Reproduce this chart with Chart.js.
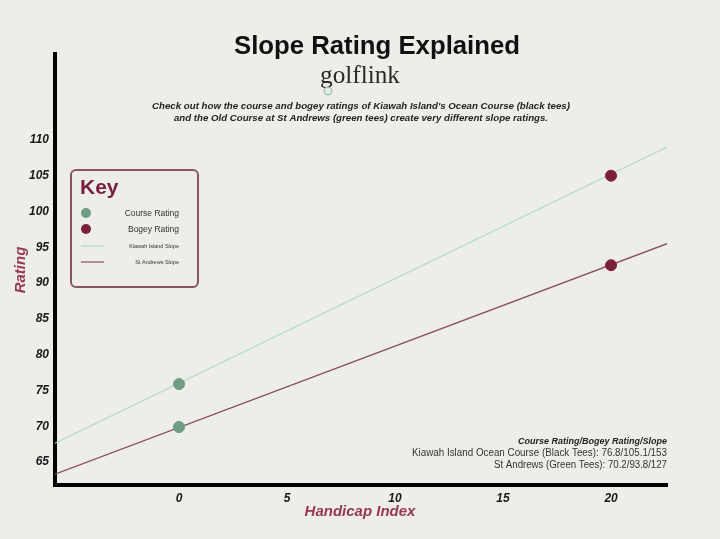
<!DOCTYPE html>
<html>
<head>
<meta charset="utf-8">
<script src="https://cdn.jsdelivr.net/npm/chart.js@4.4.0/dist/chart.umd.min.js"></script>
<style>
  html, body { margin: 0; padding: 0; background: #edede9; }
  #wrap { width: 720px; height: 539px; }
</style>
</head>
<body>
<div id="wrap"><canvas id="slopeChart" width="720" height="539"></canvas></div>
<script>
// data
const xTicks = [0, 5, 10, 15, 20];
const yTicks = [65, 70, 75, 80, 85, 90, 95, 100, 105, 110];
const handicap = [0, 20];
const kiawahRatings = [75.9, 105.0];     // course rating, bogey rating
const standrewsRatings = [69.9, 92.5];
const lineX = [-5.74, 22.59];
const kiawahLine = [67.65, 109.0];
const standrewsLine = [63.3, 95.5];

const GREEN_DOT = "#6f9c82";
const RED_DOT = "#7c1f3a";
const MINT = "#b3ddc9";
const MAROON_LINE = "#8e4f60";
const AXIS_TITLE = "#9a3656";

function pts(xs, ys) {
  return xs.map((x, i) => ({ x: x, y: ys[i] }));
}

// background, titles, key and notes drawn on the canvas
const decorations = {
  id: "decorations",
  beforeDraw(chart) {
    const ctx = chart.ctx;
    ctx.save();
    ctx.fillStyle = "#edede9";
    ctx.fillRect(0, 0, chart.width, chart.height);
    ctx.restore();
  },
  afterDraw(chart) {
    const ctx = chart.ctx;
    ctx.save();
    ctx.textBaseline = "alphabetic";

    // title
    ctx.fillStyle = "#111";
    ctx.textAlign = "center";
    ctx.font = "bold 26px 'Liberation Sans', Arial, sans-serif";
    ctx.fillText("Slope Rating Explained", 377, 54, 286);

    // golflink logo
    ctx.fillStyle = "#2a2a2a";
    ctx.font = "26px 'Liberation Serif', 'DejaVu Serif', serif";
    ctx.fillText("golflink", 360, 83, 80);
    ctx.beginPath();
    ctx.arc(328, 91, 4, 0, Math.PI * 2);
    ctx.fillStyle = "#d9efe2";
    ctx.fill();
    ctx.strokeStyle = "#8fb8a2";
    ctx.lineWidth = 1;
    ctx.stroke();

    // description
    ctx.fillStyle = "#222";
    ctx.font = "bold italic 9.7px 'Liberation Sans', Arial, sans-serif";
    ctx.fillText("Check out how the course and bogey ratings of Kiawah Island's Ocean Course (black tees)", 361, 109, 421);
    ctx.fillText("and the Old Course at St Andrews (green tees) create very different slope ratings.", 361, 121, 374);

    // axis titles
    ctx.fillStyle = AXIS_TITLE;
    ctx.font = "bold italic 15px 'Liberation Sans', Arial, sans-serif";
    ctx.fillText("Handicap Index", 360, 516);
    ctx.save();
    ctx.translate(25, 270);
    ctx.rotate(-Math.PI / 2);
    ctx.fillText("Rating", 0, 0);
    ctx.restore();

    // key box
    ctx.strokeStyle = "#8a5563";
    ctx.lineWidth = 2;
    ctx.beginPath();
    ctx.roundRect(71, 170, 127, 117, 5);
    ctx.stroke();
    ctx.fillStyle = "#7a1f40";
    ctx.textAlign = "left";
    ctx.font = "bold 21px 'Liberation Sans', Arial, sans-serif";
    ctx.fillText("Key", 80, 194);

    ctx.beginPath();
    ctx.arc(86, 213, 5, 0, Math.PI * 2);
    ctx.fillStyle = GREEN_DOT;
    ctx.fill();
    ctx.beginPath();
    ctx.arc(86, 229, 5, 0, Math.PI * 2);
    ctx.fillStyle = RED_DOT;
    ctx.fill();
    ctx.lineWidth = 1.2;
    ctx.strokeStyle = MINT;
    ctx.beginPath();
    ctx.moveTo(81, 246);
    ctx.lineTo(104, 246);
    ctx.stroke();
    ctx.strokeStyle = MAROON_LINE;
    ctx.beginPath();
    ctx.moveTo(81, 262);
    ctx.lineTo(104, 262);
    ctx.stroke();

    ctx.textAlign = "right";
    ctx.fillStyle = "#333";
    ctx.font = "8.5px 'Liberation Sans', Arial, sans-serif";
    ctx.fillText("Course Rating", 179, 216);
    ctx.fillText("Bogey Rating", 179, 232);
    ctx.font = "5.5px 'Liberation Sans', Arial, sans-serif";
    ctx.fillText("Kiawah Island Slope", 179, 248);
    ctx.fillText("St Andrews Slope", 179, 264);

    // notes, bottom right
    ctx.fillStyle = "#222";
    ctx.font = "bold italic 9px 'Liberation Sans', Arial, sans-serif";
    ctx.fillText("Course Rating/Bogey Rating/Slope", 667, 444);
    ctx.fillStyle = "#333";
    ctx.font = "10px 'Liberation Sans', Arial, sans-serif";
    ctx.fillText("Kiawah Island Ocean Course (Black Tees): 76.8/105.1/153", 667, 456, 255);
    ctx.fillText("St Andrews (Green Tees): 70.2/93.8/127", 667, 468, 173);

    ctx.restore();
  }
};

new Chart(document.getElementById("slopeChart"), {
  type: "scatter",
  data: {
    datasets: [
      {
        label: "Kiawah Island Slope",
        data: pts(lineX, kiawahLine),
        showLine: true,
        borderColor: MINT,
        borderWidth: 1.3,
        pointRadius: 0,
        order: 3
      },
      {
        label: "St Andrews Slope",
        data: pts(lineX, standrewsLine),
        showLine: true,
        borderColor: MAROON_LINE,
        borderWidth: 1.3,
        pointRadius: 0,
        order: 3
      },
      {
        label: "Course Rating",
        data: [{ x: handicap[0], y: kiawahRatings[0] }, { x: handicap[0], y: standrewsRatings[0] }],
        backgroundColor: GREEN_DOT,
        borderColor: GREEN_DOT,
        pointRadius: 5.5,
        order: 1
      },
      {
        label: "Bogey Rating",
        data: [{ x: handicap[1], y: kiawahRatings[1] }, { x: handicap[1], y: standrewsRatings[1] }],
        backgroundColor: RED_DOT,
        borderColor: RED_DOT,
        pointRadius: 5.5,
        order: 1
      }
    ]
  },
  options: {
    responsive: false,
    animation: false,
    layout: { padding: { left: 0, right: 53, top: 54, bottom: 0 } },
    plugins: {
      legend: { display: false },
      tooltip: { enabled: false }
    },
    scales: {
      x: {
        type: "linear",
        min: -5.74,
        max: 22.59,
        afterBuildTicks: (s) => { s.ticks = xTicks.map(v => ({ value: v })); },
        afterFit: (s) => { s.height = 54; },
        grid: { display: false, drawTicks: false },
        border: { display: true, color: "#000", width: 4 },
        ticks: {
          padding: 6,
          color: "#1a1a1a",
          font: { family: "'Liberation Sans', Arial, sans-serif", size: 12, weight: "bold", style: "italic" }
        }
      },
      y: {
        type: "linear",
        min: 61.8,
        max: 122.0,
        afterBuildTicks: (s) => { s.ticks = yTicks.map(v => ({ value: v })); },
        afterFit: (s) => { s.width = 55; },
        grid: { display: false, drawTicks: false },
        border: { display: true, color: "#000", width: 4 },
        ticks: {
          padding: 6,
          color: "#1a1a1a",
          font: { family: "'Liberation Sans', Arial, sans-serif", size: 12, weight: "bold", style: "italic" }
        }
      }
    }
  },
  plugins: [decorations]
});
</script>
</body>
</html>
